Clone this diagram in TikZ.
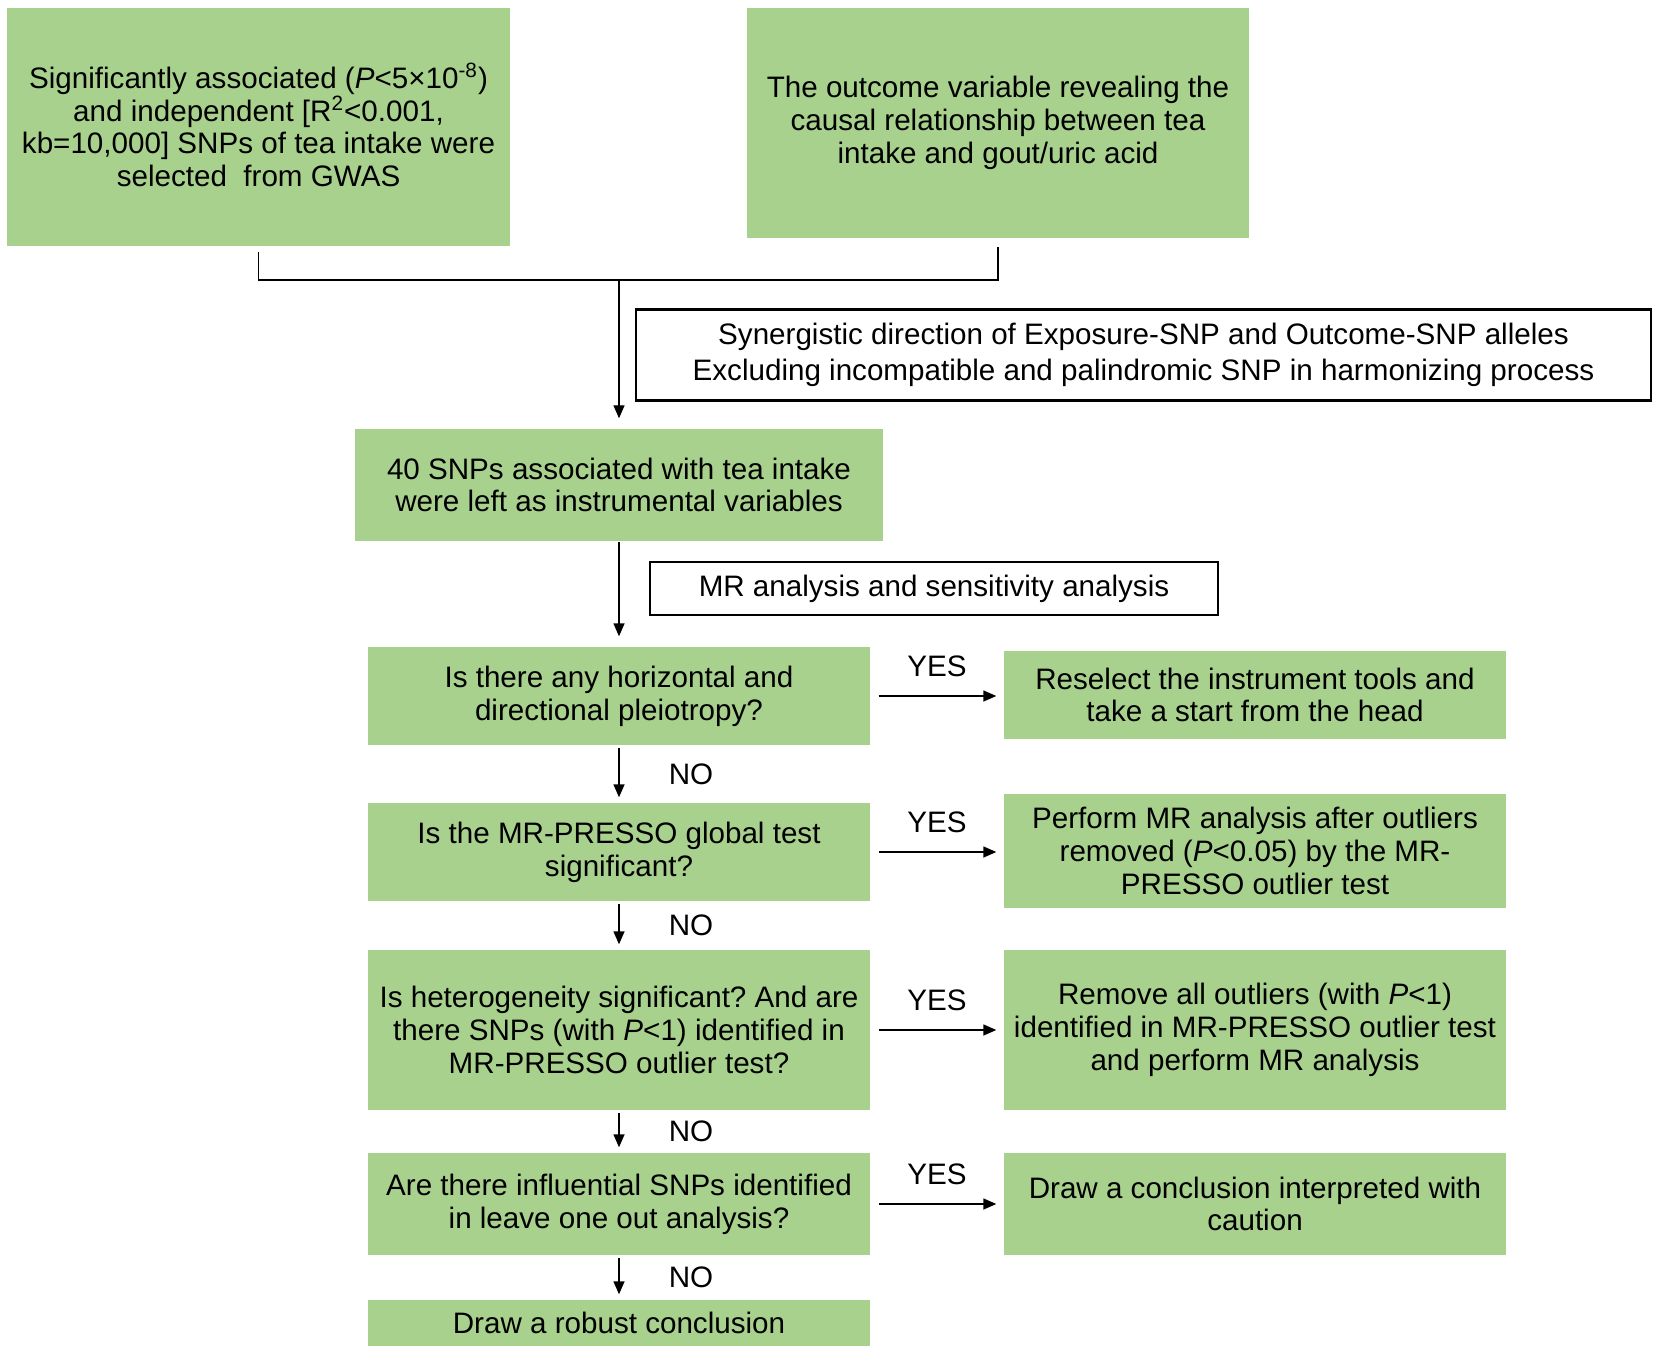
\documentclass[tikz,border=0pt]{standalone}
\usepackage{fontspec}
\setmainfont{Liberation Sans}
\usepackage{tikz}
\usetikzlibrary{arrows.meta}
\definecolor{boxgreen}{RGB}{169,209,142}
\tikzset{
  greenbox/.style={fill=boxgreen, align=center, inner sep=0pt},
  linebox/.style={draw, line width=1.1bp, align=center, inner sep=0pt},
  sz/.style 2 args={minimum width=#1*0.5bp, minimum height=#2*0.5bp},
}
\frenchspacing

\begin{document}
\begin{tikzpicture}[x=0.5bp, y=-0.5bp, line width=0.7bp,
    >={Triangle[length=6.5bp,width=5.5bp]},
    font=\fontsize{14.8bp}{16.4bp}\selectfont]
    \useasboundingbox (0,0) rectangle (1654,1353);
    \def\colx{619}
    \def\resx{1255}
    % top row
    \node[greenbox, sz={503}{238}] (sel) at (258.5,127)
      {Significantly associated (\textit{P}<5×10\smash{\textsuperscript{-8}})\\
       and independent [R\smash{\textsuperscript{2}}<0.001,\\
       kb=10,000] SNPs of tea intake were\\
       selected \ from GWAS};
    \node[greenbox, sz={502}{230}] (outc) at (998,123)
      {The outcome variable revealing the\\
       causal relationship between tea\\
       intake and gout/uric acid};
    \node[linebox, sz={1015}{91}, font=\fontsize{14.8bp}{18bp}\selectfont] (harm) at (1143.5,355)
      {Synergistic direction of Exposure-SNP and Outcome-SNP alleles\\
       Excluding incompatible and palindromic SNP in harmonizing process};
    \node[linebox, sz={568}{53}] (mra) at (934,588.5)
      {\raisebox{-1.5bp}{MR analysis and sensitivity analysis}};
    \node[greenbox, sz={528}{112}] (ivs) at (\colx,485)
      {40 SNPs associated with tea intake\\were left as instrumental variables};
    % questions
    \node[greenbox, sz={502}{98}] (q1) at (\colx,696)
      {Is there any horizontal and\\directional pleiotropy?};
    \node[greenbox, sz={502}{98}] (q2) at (\colx,852)
      {Is the MR-PRESSO global test\\significant?};
    \node[greenbox, sz={502}{160}] (q3) at (\colx,1030)
      {Is heterogeneity significant? And are\\
       there SNPs (with \textit{P}<1) identified in\\
       MR-PRESSO outlier test?};
    \node[greenbox, sz={502}{102}] (q4) at (\colx,1204)
      {Are there influential SNPs identified\\in leave one out analysis?};
    \node[greenbox, sz={502}{46}] (robust) at (\colx,1323)
      {Draw a robust conclusion};
    % answers
    \node[greenbox, sz={502}{88}] (r1) at (\resx,695)
      {Reselect the instrument tools and\\take a start from the head};
    \node[greenbox, sz={502}{114}] (r2) at (\resx,851)
      {Perform MR analysis after outliers\\
       removed (\textit{P}<0.05) by the MR-\\
       PRESSO outlier test};
    \node[greenbox, sz={502}{160}] (r3) at (\resx,1030)
      {Remove all outliers (with \textit{P}<1)\\
       identified in MR-PRESSO outlier test\\
       and perform MR analysis};
    \node[greenbox, sz={502}{102}] (r4) at (\resx,1204)
      {Draw a conclusion interpreted with\\caution};
    % connectors
    \coordinate (join) at (\colx,280);
    \draw ([yshift=-2.5bp]sel.south) |- (join) -| ([yshift=-4bp]outc.south);
    \draw[->] (join) -- ([yshift=5bp]ivs.north);
    \draw[->] (ivs.south) -- ([yshift=5bp]q1.north);
    \foreach \q/\r in {q1/r1,q2/r2,q3/r3,q4/r4}
      \draw[->, shorten <=4bp, shorten >=3.5bp] (\q.east) --
        node[yshift=15bp]{YES} (\q.east -| \r.west);
    \foreach \a/\b in {q1/q2,q2/q3,q3/q4,q4/robust}
      \draw[->, shorten <=1bp, shorten >=2.5bp] (\a.south) --
        node[xshift=36bp]{NO} (\b.north);
\end{tikzpicture}
\end{document}
